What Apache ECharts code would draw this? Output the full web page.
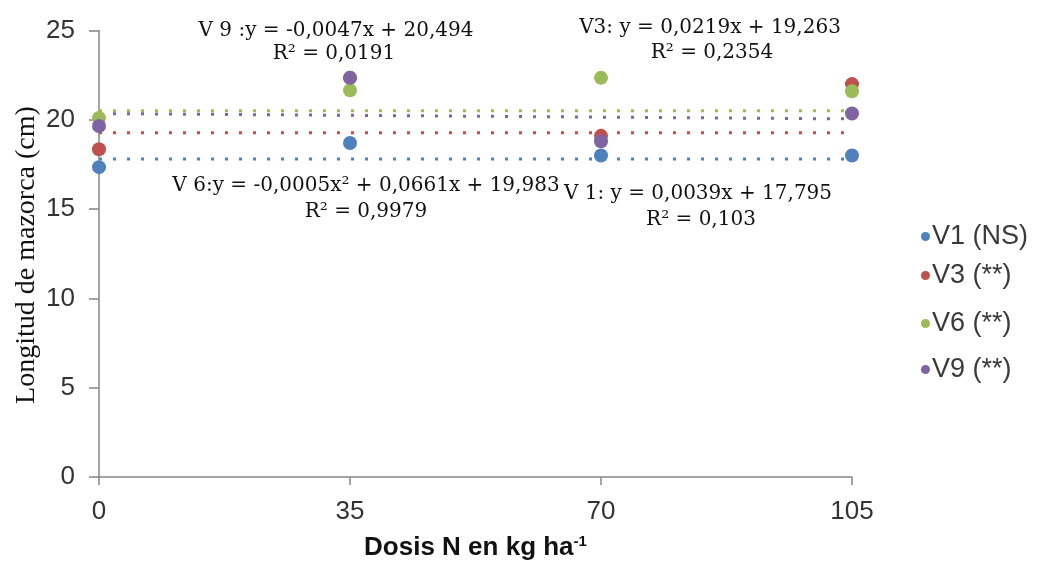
<!DOCTYPE html>
<html>
<head>
<meta charset="utf-8">
<script src="https://cdn.jsdelivr.net/npm/echarts@6/dist/echarts.min.js"></script>
<style>html,body{margin:0;padding:0;background:#fff}#c{width:1040px;height:563px}</style>
</head>
<body>
<div id="c"></div>
<script>
// ---- data ----
const doses = [0, 35, 70, 105];
const xTicks = [0, 35, 70, 105];
const seriesNames = ['V1 (NS)', 'V3 (**)', 'V6 (**)', 'V9 (**)'];
const v1 = [17.35, 18.7, 18.0, 18.0];
const v3 = [18.35, 22.35, 19.1, 22.0];
const v6 = [20.1, 21.65, 22.35, 21.6];
const v9 = [19.65, 22.35, 18.8, 20.35];
const trendX = [0, 105];
const trendV1 = [17.8, 17.8];
const trendV3 = [19.28, 19.28];
const trendV6 = [20.5, 20.5];
const trendV9 = [20.35, 20.05];
const colors = ['#4F81BD', '#C0504D', '#9BBB59', '#8064A2'];
const eqTexts = [
  ['V 9 :y = -0,0047x + 20,494', 'R² = 0,0191'],
  ['V3: y = 0,0219x + 19,263', 'R² = 0,2354'],
  ['V 6:y = -0,0005x² + 0,0661x + 19,983', 'R² = 0,9979'],
  ['V 1: y = 0,0039x + 17,795', 'R² = 0,103']
];

const pts = [v1, v3, v6, v9];
const trends = [trendV1, trendV3, trendV6, trendV9];

const chart = echarts.init(document.getElementById('c'), null, {renderer: 'canvas'});
const series = [];
trends.forEach((t, i) => {
  series.push({
    name: seriesNames[i] + ' trend',
    type: 'line',
    data: trendX.map((x, j) => [x, t[j]]),
    showSymbol: false,
    silent: true,
    lineStyle: {color: colors[i], width: 3, type: [3, 11], cap: 'butt'},
    z: 1
  });
});
pts.forEach((arr, i) => {
  series.push({
    name: seriesNames[i],
    type: 'scatter',
    data: doses.map((x, j) => [x, arr[j]]),
    symbol: 'circle',
    symbolSize: 14,
    itemStyle: {color: colors[i], opacity: 1},
    z: 3
  });
});

const legendTops = [233, 272, 320, 366];
const legends = seriesNames.map((n, i) => ({
  data: [n],
  left: 916,
  top: legendTops[i] - 15,
  orient: 'vertical',
  icon: 'circle',
  itemWidth: 9,
  itemHeight: 9,
  itemGap: 0,
  textStyle: {fontFamily: 'Liberation Sans', fontSize: 27, color: '#3a3a3a', padding: [0, 0, 0, -3]}
}));

const eqFont = '20px "DejaVu Serif"';
const eqPos = [
  [336, 21, 334, 44],
  [710, 18, 712, 43],
  [366, 176, 366, 202],
  [698, 184, 701, 210]
];
const graphics = [];
eqTexts.forEach((t, i) => {
  const p = eqPos[i];
  graphics.push({type: 'text', x: p[0], y: p[1], style: {text: t[0], font: eqFont, fill: '#111', textAlign: 'center', textVerticalAlign: 'top'}});
  graphics.push({type: 'text', x: p[2], y: p[3], style: {text: t[1], font: eqFont, fill: '#111', textAlign: 'center', textVerticalAlign: 'top'}});
});
graphics.push({
  type: 'text', x: 27, y: 255, rotation: Math.PI / 2,
  style: {text: 'Longitud de mazorca (cm)', font: '28px "Liberation Serif"', fill: '#111', textAlign: 'center', textVerticalAlign: 'middle'}
});

chart.setOption({
  animation: false,
  backgroundColor: '#fff',
  grid: {left: 99, right: 188, top: 30.5, bottom: 86, containLabel: false, outerBoundsMode: 'none'},
  legend: legends,
  xAxis: {
    type: 'value', min: 0, max: 105, interval: 35,
    name: '{b|Dosis N en kg ha}{s|-1}', nameLocation: 'middle', nameGap: 57,
    nameTextStyle: {rich: {
      b: {fontFamily: 'Liberation Sans', fontWeight: 'bold', fontSize: 26, color: '#111'},
      s: {fontFamily: 'Liberation Sans', fontWeight: 'bold', fontSize: 15, color: '#111', verticalAlign: 'top', padding: [0, 0, 12, 0]}
    }},
    axisLine: {lineStyle: {color: '#868686', width: 1.5}},
    axisTick: {show: true, length: 8, lineStyle: {color: '#868686', width: 1.5}},
    splitLine: {show: false},
    axisLabel: {fontFamily: 'Liberation Sans', fontSize: 26, color: '#333', margin: 22,
      formatter: v => xTicks.includes(v) ? String(v) : ''}
  },
  yAxis: {
    type: 'value', min: 0, max: 25, interval: 5,
    axisLine: {show: true, lineStyle: {color: '#868686', width: 1.5}},
    axisTick: {show: true, length: 10, lineStyle: {color: '#868686', width: 1.5}},
    splitLine: {show: false},
    axisLabel: {fontFamily: 'Liberation Sans', fontSize: 26, color: '#333', margin: 24}
  },
  graphic: graphics,
  series: series
});
</script>
</body>
</html>
